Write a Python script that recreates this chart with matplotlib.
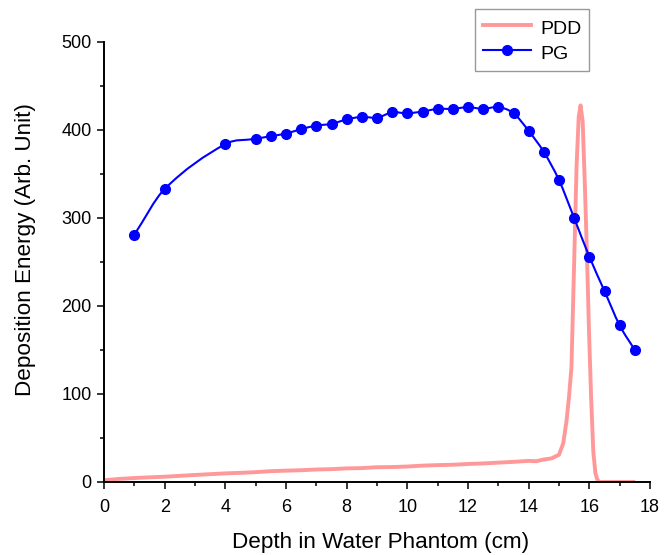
import matplotlib
matplotlib.use('Agg')
import matplotlib.pyplot as plt
from matplotlib.path import Path
from matplotlib.patches import PathPatch
from matplotlib.lines import Line2D
from matplotlib.ticker import MultipleLocator

plt.rcParams['font.family'] = ['Liberation Sans', 'DejaVu Sans']

# PDD curve
pdd_depth = [0.0, 0.5, 1.0, 1.5, 2.0, 2.5, 3.0, 3.5, 4.0, 4.5, 5.0, 5.5, 6.0, 6.5,
             7.0, 7.5, 8.0, 8.5, 9.0, 9.5, 10.0, 10.5, 11.0, 11.5, 12.0, 12.5,
             13.0, 13.5, 14.0, 14.25, 14.5, 14.75, 15.0, 15.14, 15.25, 15.33,
             15.41, 15.5, 15.58, 15.65, 15.71, 15.78, 15.85, 15.92, 15.99,
             16.06, 16.13, 16.2, 16.27, 16.35, 16.8, 17.45]
pdd_dose = [2.0, 3.5, 4.5, 5.3, 6.0, 7.0, 8.0, 8.9, 9.8, 10.4, 11.2, 12.3, 12.9,
            13.4, 14.2, 14.6, 15.5, 15.8, 16.8, 17.0, 17.6, 18.6, 19.2, 19.6,
            20.5, 21.1, 22.0, 22.9, 24.0, 23.6, 25.6, 26.8, 31.0, 44.0, 70.0,
            97.0, 130.0, 250.0, 360.0, 415.0, 428.0, 410.0, 340.0, 260.0,
            170.0, 95.0, 35.0, 10.0, 2.0, 0.0, 0.0, 0.0]

# PG points
pg_depth = [1, 2, 4, 5, 5.5, 6, 6.5, 7, 7.5, 8, 8.5, 9, 9.5, 10, 10.5, 11, 11.5,
            12, 12.5, 13, 13.5, 14, 14.5, 15, 15.5, 16, 16.5, 17, 17.5]
pg_value = [281, 333, 384, 390, 393, 396, 401, 405, 407, 412, 415, 414, 420,
            419, 421, 424, 424, 426, 424, 426, 419, 399, 375, 343, 300, 256,
            217, 178, 150]

W, H = 672, 555
fig = plt.figure(figsize=(W / 100, H / 100), dpi=100)
ax = fig.add_axes([104 / W, 73 / H, 546 / W, 440 / H])

pdd_color = '#ff9999'
pg_color = '#0000ff'

ax.plot(pdd_depth, pdd_dose, color=pdd_color, lw=2.8, solid_joinstyle='round')

# smooth line through the PG points (cubic Hermite as Bezier segments)
n = len(pg_depth)
slopes = []
for i in range(n):
    if i == 0:
        m = (pg_value[1] - pg_value[0]) / (pg_depth[1] - pg_depth[0])
    elif i == n - 1:
        m = (pg_value[-1] - pg_value[-2]) / (pg_depth[-1] - pg_depth[-2])
    else:
        m = (pg_value[i + 1] - pg_value[i - 1]) / (pg_depth[i + 1] - pg_depth[i - 1])
    slopes.append(m)
verts = [(pg_depth[0], pg_value[0])]
codes = [Path.MOVETO]
for i in range(n - 1):
    h = (pg_depth[i + 1] - pg_depth[i]) / 3
    verts += [(pg_depth[i] + h, pg_value[i] + slopes[i] * h),
              (pg_depth[i + 1] - h, pg_value[i + 1] - slopes[i + 1] * h),
              (pg_depth[i + 1], pg_value[i + 1])]
    codes += [Path.CURVE4] * 3
ax.add_patch(PathPatch(Path(verts, codes), facecolor='none', edgecolor=pg_color, lw=1.5, zorder=3))
ax.plot(pg_depth, pg_value, 'o', color=pg_color, ms=7, zorder=4)

ax.set_xlim(0, 18)
ax.set_ylim(0, 500)
ax.xaxis.set_major_locator(MultipleLocator(2))
ax.xaxis.set_minor_locator(MultipleLocator(1))
ax.yaxis.set_major_locator(MultipleLocator(100))
ax.yaxis.set_minor_locator(MultipleLocator(50))
ax.tick_params(which='both', direction='out', width=1.1, labelsize=13)
ax.tick_params(which='major', length=5)
ax.tick_params(which='minor', length=3)
ax.tick_params(axis='x', pad=7)
ax.tick_params(axis='y', pad=4)
for s in ['top', 'right']:
    ax.spines[s].set_visible(False)
for s in ['left', 'bottom']:
    ax.spines[s].set_linewidth(1.4)

# axis titles placed like the original (slightly off-centre)
fig.text(381 / W, 1 - 548 / H, 'Depth in Water Phantom (cm)', fontsize=16.2,
         ha='center', va='baseline')
fig.text(31 / W, 1 - 250 / H, 'Deposition Energy (Arb. Unit)', fontsize=16.2,
         ha='center', va='baseline', rotation=90, rotation_mode='anchor')

handles = [Line2D([], [], color=pdd_color, lw=2.8),
           Line2D([], [], color=pg_color, lw=1.5, marker='o', ms=7)]
leg = fig.legend(handles, ['PDD', 'PG'], loc='upper left',
                 bbox_to_anchor=(475 / W, 1 - 9 / H), fontsize=14,
                 fancybox=False, borderpad=0.4, handlelength=2.5,
                 handleheight=1.3, handletextpad=0.45, labelspacing=0.2,
                 borderaxespad=0)
leg.get_frame().set_edgecolor('#808080')
leg.get_frame().set_linewidth(1.0)

fig.savefig('out.png', dpi=100)
